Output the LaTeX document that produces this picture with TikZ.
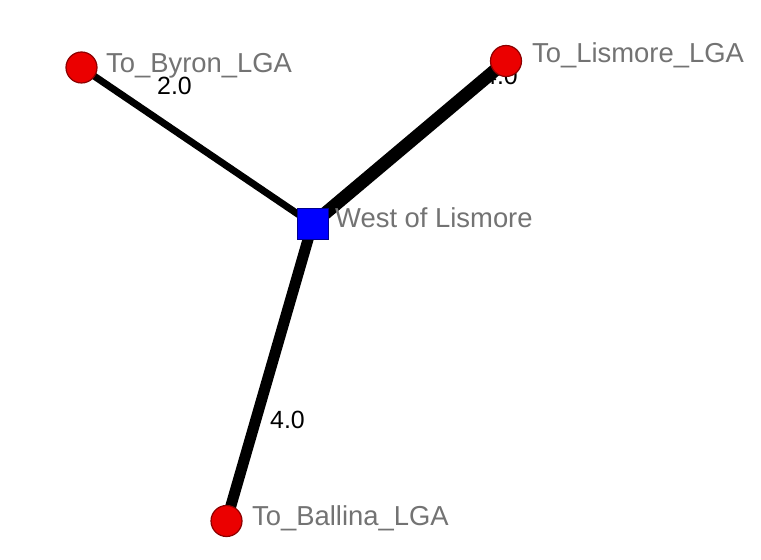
\documentclass[tikz,border=0pt]{standalone}
\usepackage{fontspec}
\setmainfont{Liberation Sans}
\pgfdeclarelayer{bg}
\pgfsetlayers{bg,main}
\begin{document}
\begin{tikzpicture}[x=1bp,y=-1bp,
  vtxnode/.style={circle, fill=red!92!black, draw=red!55!black, line width=1.2bp, minimum size=31bp, inner sep=0},
  hubnode/.style={rectangle, fill=blue, draw=blue!55!black, line width=1bp, minimum size=31bp, inner sep=0},
  namelbl/.style={anchor=base west, inner sep=0, text=black!55, font=\fontsize{27.5}{27.5}\selectfont},
  wtlbl/.style={anchor=base west, inner sep=0, text=black, font=\fontsize{25}{25}\selectfont},
  linkline/.style={draw=black, line cap=butt}]
\useasboundingbox (0,0) rectangle (761,560);
% nodes
\node[vtxnode] (byron) at (81.5,67.5) {};
\node[vtxnode] (lismore) at (506,61) {};
\node[vtxnode] (ballina) at (226.5,521) {};
\node[hubnode] (west) at (312.5,224) {};
% names
\node[namelbl] (tbyron) at (106,73) {To\_Byron\_LGA};
\node[namelbl] (tlismore) at (532,63) {To\_Lismore\_LGA};
\node[namelbl] (twest) at (335,228) {West of Lismore};
\node[namelbl] (tballina) at (252,525) {To\_Ballina\_LGA};
% edges under nodes
\begin{pgfonlayer}{bg}
\fill[white] (0,0) rectangle (761,560);
\draw[linkline, line width=7bp] (west.center) -- (byron.center);
\draw[linkline, line width=13bp] (west.center) -- (lismore.center);
\draw[linkline, line width=11bp] (west.center) -- (ballina.center);
\node[wtlbl] (w1) at (157,95) {2.0};
\node[wtlbl] (w2) at (483,85) {4.0};
\node[wtlbl] (w3) at (270,428) {4.0};
\end{pgfonlayer}
\end{tikzpicture}
\end{document}
